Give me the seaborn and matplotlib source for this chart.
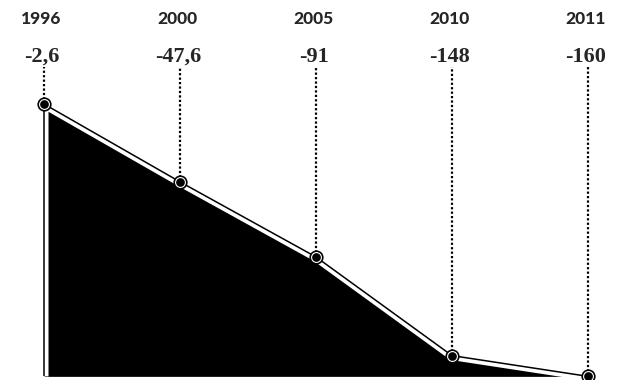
import matplotlib.pyplot as plt
import numpy as np
import seaborn as sns

# data
years = ["1996", "2000", "2005", "2010", "2011"]
values = [-2.6, -47.6, -91, -148, -160]
value_labels = ["-2,6", "-47,6", "-91", "-148", "-160"]


if __name__ == "__main__":
    sns.set_style("white")

    fig = plt.figure(figsize=(6.25, 3.8), dpi=100)
    ax = fig.add_axes([0, 0, 1, 1])
    ax.set_axis_off()

    idx = np.arange(len(years))
    vals = np.array(values)
    base = vals.min()

    # black area under the line
    ax.fill_between(idx, vals, base, color="black", lw=0, zorder=1)

    # white halo so the fill sits a bit below the outline
    edge_x = np.r_[idx[0], idx]
    edge_y = np.r_[base, vals]
    ax.plot(edge_x, edge_y, color="white", lw=6.5,
            solid_joinstyle="miter", solid_capstyle="butt", zorder=2)

    # thin black outline
    sns.lineplot(x=idx, y=vals, color="black", lw=1.1, ax=ax, zorder=3)
    ax.vlines(idx[0], base, vals[0], color="black", lw=1.1, zorder=3)

    # dotted leaders from the labels down to the points
    dot_top = 18.8
    ax.vlines(idx, vals, dot_top, color="black", lw=1.6,
              linestyles=(0, (1, 1)), zorder=3)

    # markers: black dot with white ring
    sns.scatterplot(x=idx, y=vals, s=105, color="black", lw=0, ax=ax, zorder=4)
    sns.scatterplot(x=idx, y=vals, s=50, color="black", edgecolor="white",
                    lw=0.8, ax=ax, zorder=5)

    # labels on top
    trans = ax.get_xaxis_transform()
    for i, (yr, lab) in enumerate(zip(years, value_labels)):
        ax.text(i - 0.02, 0.937, yr, transform=trans, ha="center",
                va="baseline", fontsize=12.5, fontweight="black",
                family="Lato")
        ax.text(i - 0.015, 0.838, lab, transform=trans, ha="center",
                va="baseline", fontsize=16, fontweight="bold",
                family="Liberation Serif")

    ax.set_xlim(-44 / 136, (625 - 44) / 136)
    ax.set_ylim(-162.1, 57.5)

    plt.savefig("out.png", dpi=100)
